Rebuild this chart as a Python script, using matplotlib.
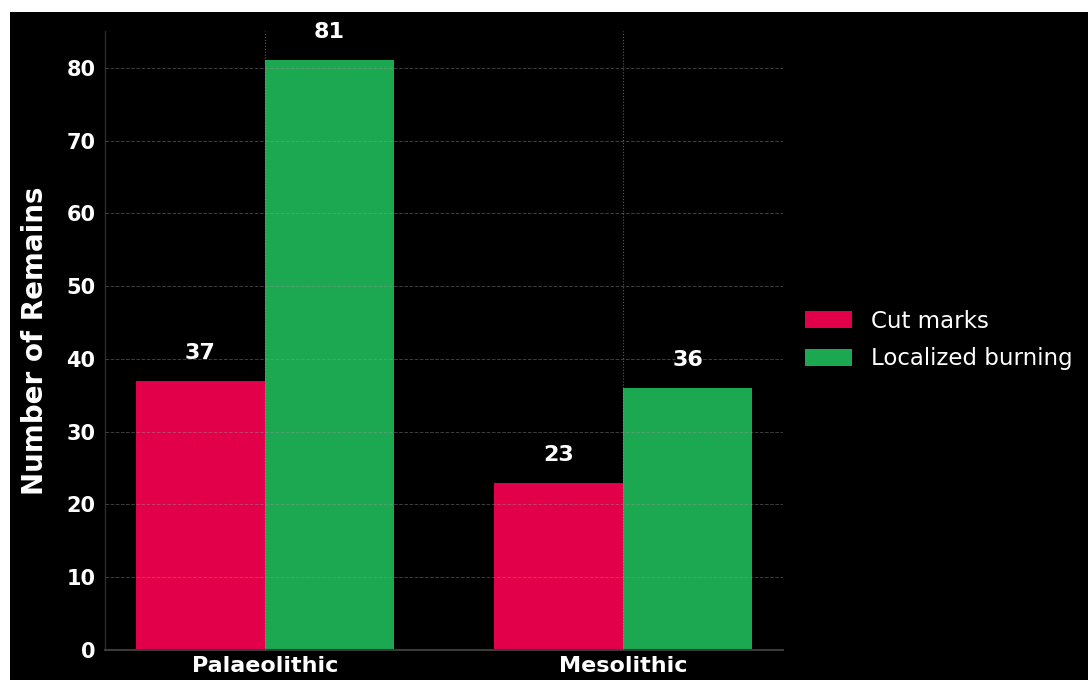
import matplotlib
matplotlib.use("Agg")
import matplotlib.pyplot as plt
from matplotlib.patches import Rectangle
import numpy as np

plt.rcParams['font.family'] = ['DejaVu Sans']

periods = ["Palaeolithic", "Mesolithic"]
cut_marks = [37, 23]
localized_burning = [81, 36]
series_names = ["Cut marks", "Localized burning"]
colors = ["#E3004A", "#1BA850"]

fig = plt.figure(figsize=(10.88, 6.8), dpi=100, facecolor="black")
# white margin strips along the top and left edges
fig.patches.append(Rectangle((0, 0), 10 / 1088, 1, transform=fig.transFigure,
                             facecolor="white", edgecolor="none", zorder=-1))
fig.patches.append(Rectangle((0, 1 - 12 / 680), 1, 12 / 680, transform=fig.transFigure,
                             facecolor="white", edgecolor="none", zorder=-1))

ax = fig.add_axes([105 / 1088, 30 / 680, (783 - 105) / 1088, (649 - 30) / 680])
ax.set_facecolor("black")

x = np.arange(len(periods))
width = 0.36
b1 = ax.bar(x - width / 2, cut_marks, width, color=colors[0], label=series_names[0], zorder=1)
b2 = ax.bar(x + width / 2, localized_burning, width, color=colors[1], label=series_names[1], zorder=1)

for bars, vals in ((b1, cut_marks), (b2, localized_burning)):
    for rect, v in zip(bars, vals):
        ax.annotate(f"{v}", (rect.get_x() + rect.get_width() / 2, v),
                    xytext=(0, 13), textcoords="offset points",
                    ha="center", va="bottom", color="white",
                    fontsize=16, fontweight="bold")

ax.set_ylim(0, max(localized_burning) * 1.05)
ax.set_yticks(np.arange(0, 81, 10))
ax.set_xticks(x)
ax.set_xticklabels(periods)

ax.set_axisbelow(False)
ax.yaxis.grid(True, color="#9a9a9a", linestyle="--", linewidth=0.7, alpha=0.4, zorder=3)
ax.xaxis.grid(True, color="#9a9a9a", linestyle=":", linewidth=0.8, alpha=0.6, zorder=3)

ax.tick_params(axis="both", length=0, colors="white")
ax.tick_params(axis="y", pad=7, labelsize=15)
ax.tick_params(axis="x", pad=4.5, labelsize=16)
for lbl in ax.get_xticklabels() + ax.get_yticklabels():
    lbl.set_fontweight("bold")
    lbl.set_color("white")

ax.set_ylabel("Number of Remains", color="white", fontsize=20, fontweight="bold", labelpad=12)

for side in ("top", "right"):
    ax.spines[side].set_visible(False)
ax.spines["left"].set_color("#2a2a2a")
ax.spines["left"].set_linewidth(1.0)
ax.spines["bottom"].set_color("#3a3a3a")
ax.spines["bottom"].set_linewidth(1.5)

leg = fig.legend(handles=[b1, b2], labels=series_names,
                 loc="center left", bbox_to_anchor=(805 / 1088, 0.5),
                 frameon=False, fontsize=16.5, borderpad=0, borderaxespad=0,
                 handlelength=2.05, handleheight=0.72, handletextpad=0.85,
                 labelspacing=0.65)
for t in leg.get_texts():
    t.set_color("white")

fig.savefig("out.png", dpi=100, facecolor=fig.get_facecolor())
